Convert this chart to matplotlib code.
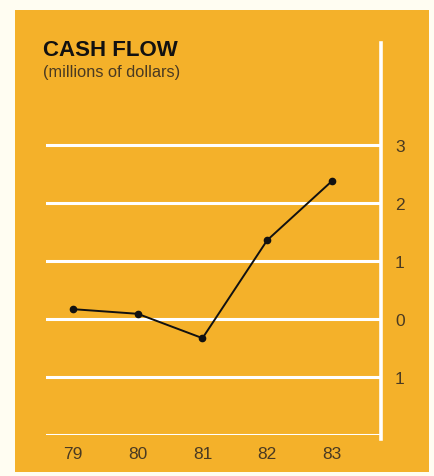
import numpy as np
import matplotlib.pyplot as plt
from matplotlib.patches import Rectangle

plt.rcParams['font.family'] = ['Liberation Sans', 'DejaVu Sans']

years = [79, 80, 81, 82, 83]
year_labels = ['79', '80', '81', '82', '83']
cash_flow = [0.17, 0.09, -0.33, 1.36, 2.38]
y_ticks = [-1, 0, 1, 2, 3]
y_tick_labels = ['1', '0', '1', '2', '3']
grid_levels = [-2, -1, 0, 1, 2, 3]

W, H = 435, 477
fig = plt.figure(figsize=(W/100, H/100), dpi=100)
fig.patch.set_facecolor('#fffdf2')

orange = '#f4b12a'
fig.patches.append(Rectangle((15/W, 4/H), (429-15)/W, (466-4)/H,
                             transform=fig.transFigure, facecolor=orange,
                             edgecolor='none', zorder=-5))

ax = fig.add_axes([46/W, (H-436)/H, (381-46)/W, (436-44)/H])
ax.set_facecolor('none')

for lev in grid_levels:
    ax.axhline(lev, color='white', linewidth=2.2, zorder=1)

ax.plot(years, cash_flow, color='#111111', linewidth=1.4, marker='o',
        markersize=4.5, zorder=3)

ax.set_xlim(78.583, 83.757)
ax.set_ylim(-2, 4.76)

for s in ['top', 'left', 'bottom']:
    ax.spines[s].set_visible(False)
ax.spines['right'].set_color('white')
ax.spines['right'].set_linewidth(2.6)
ax.spines['right'].set_bounds(-2.07, 4.76)

ax.set_xticks(years)
ax.set_xticklabels(year_labels)
ax.yaxis.tick_right()
ax.set_yticks(y_ticks)
ax.set_yticklabels(y_tick_labels)
ax.tick_params(axis='x', length=0, pad=8, labelsize=12.5, labelcolor='#4a3a22')
ax.tick_params(axis='y', length=0, pad=10, labelsize=12.5, labelcolor='#4a3a22')

fig.text(43/W, 1 - 50/H, 'CASH FLOW', fontsize=16, fontweight='bold',
         color='#111111', va='center', ha='left')
fig.text(43/W, 1 - 72/H, '(millions of dollars)', fontsize=11.8,
         color='#4a3a22', va='center', ha='left')

fig.savefig('out.png', dpi=100, facecolor=fig.get_facecolor())
